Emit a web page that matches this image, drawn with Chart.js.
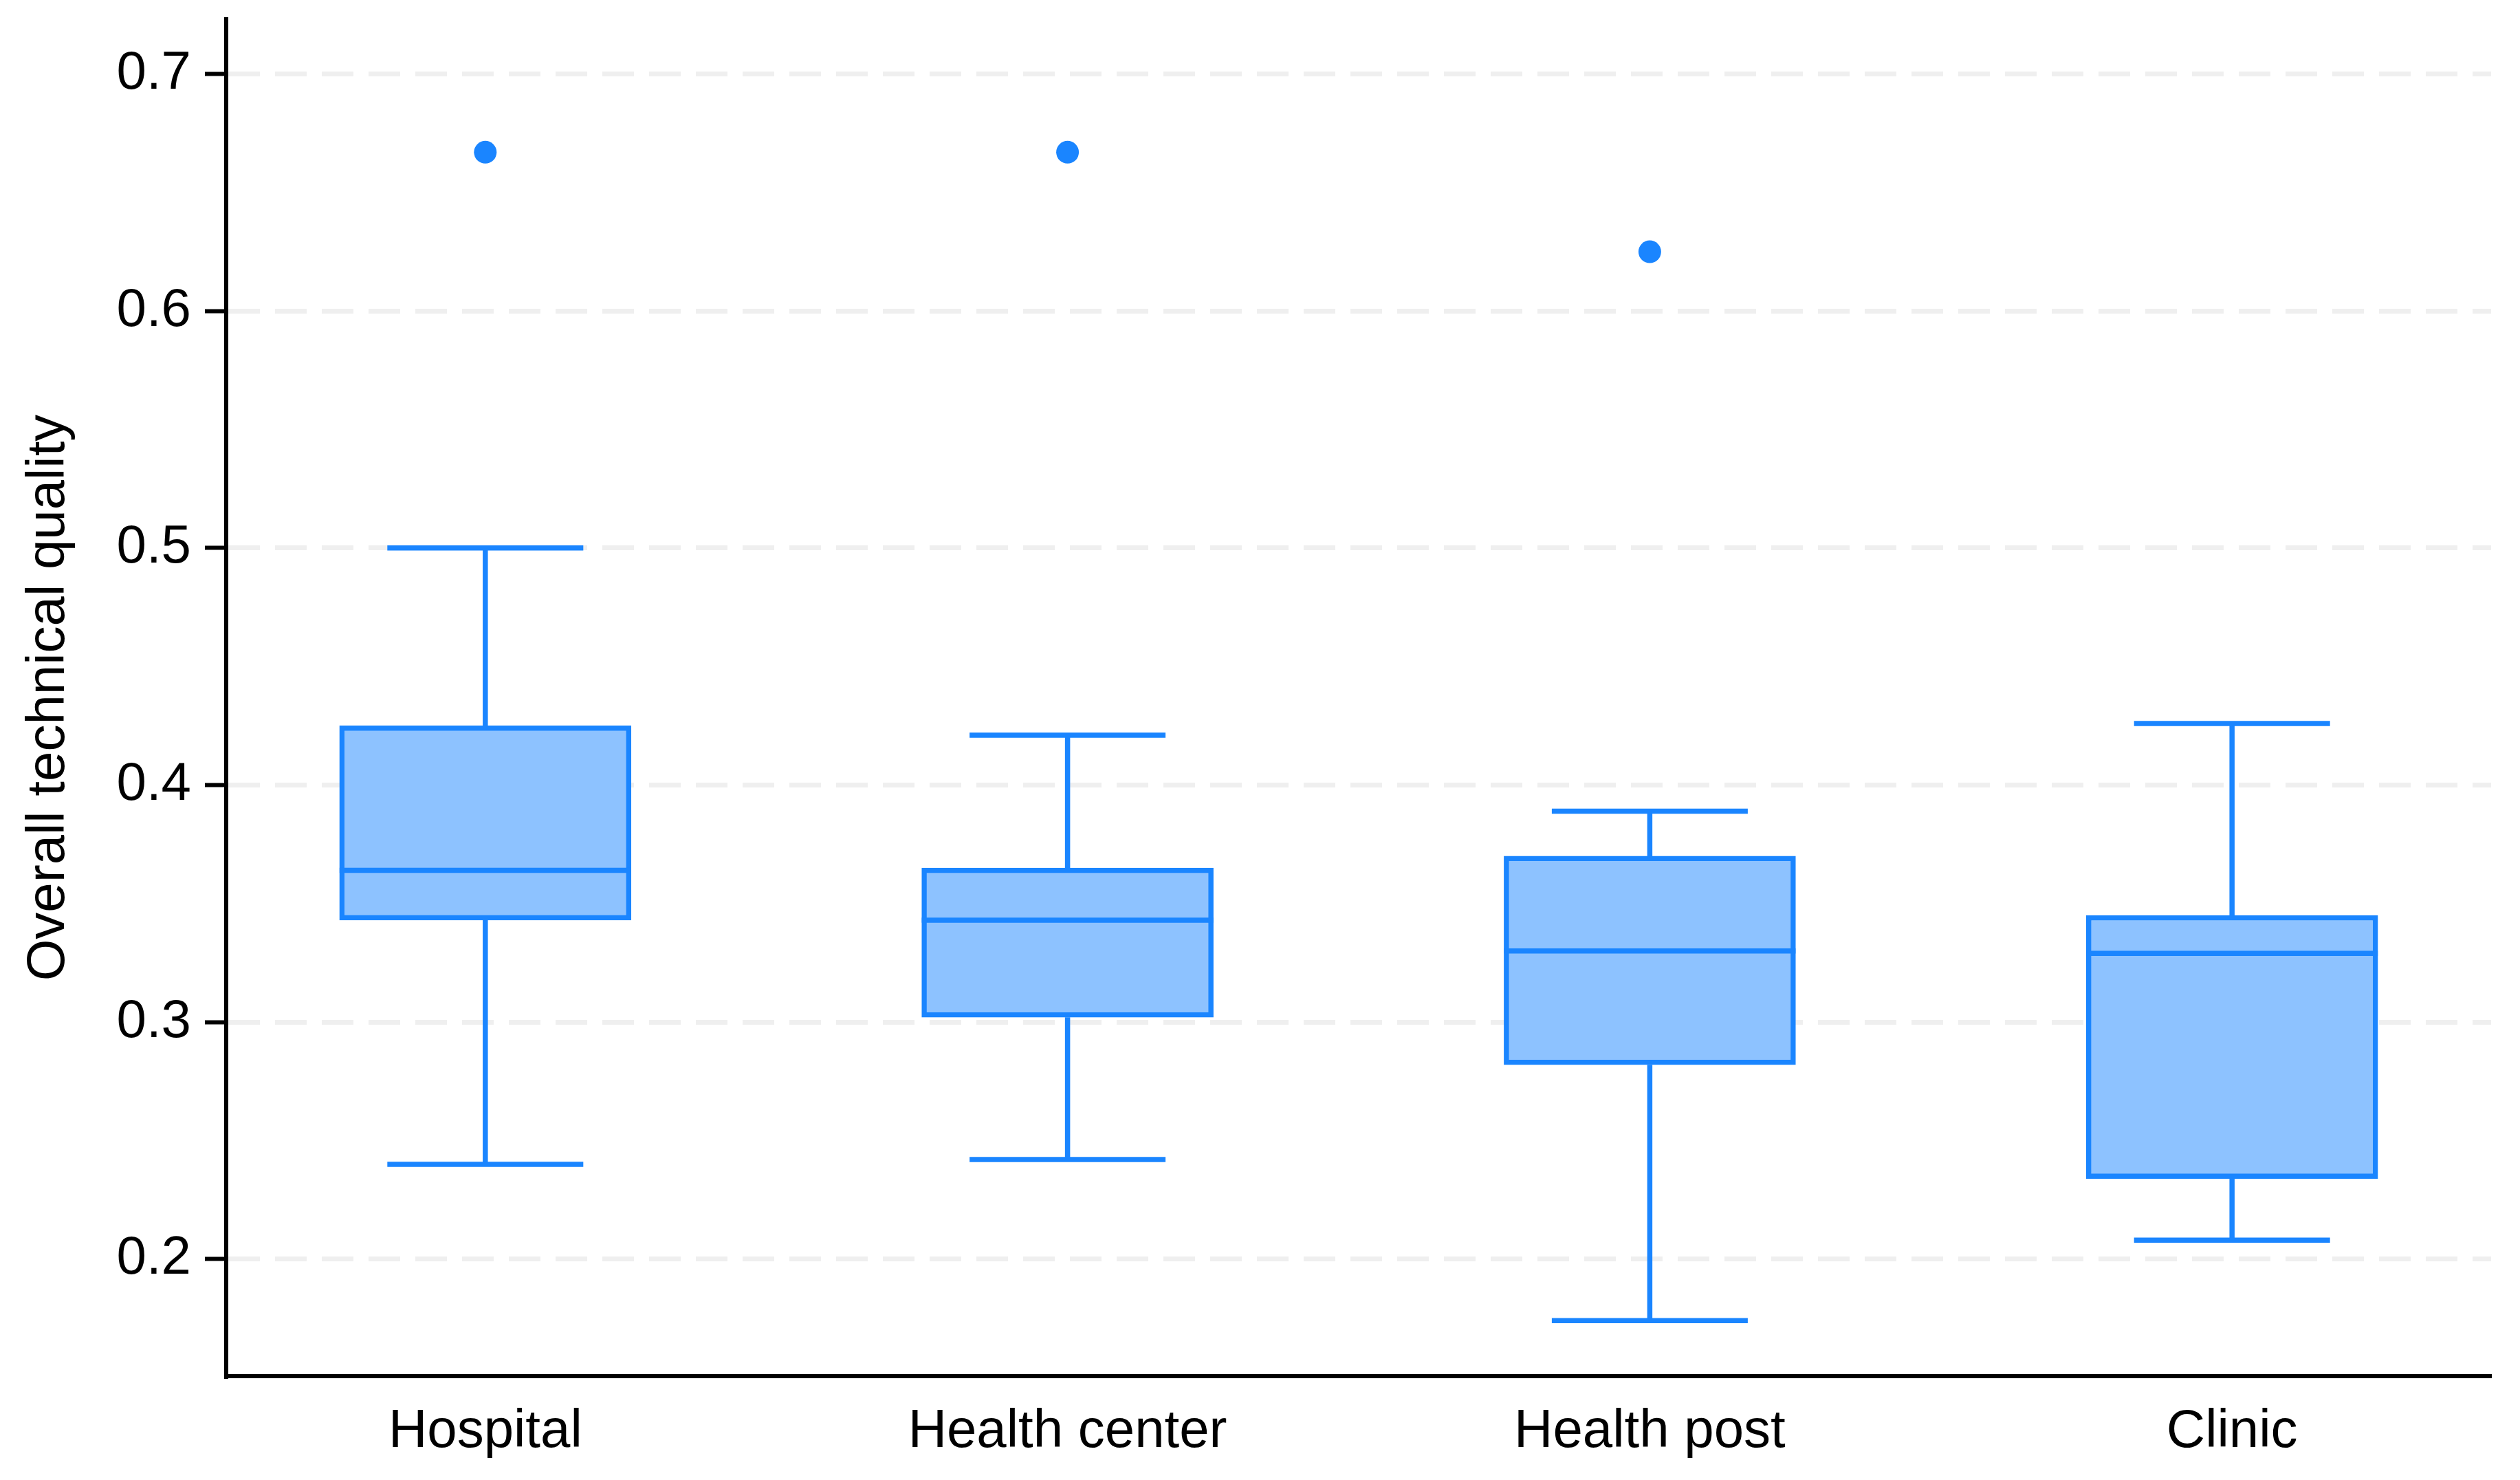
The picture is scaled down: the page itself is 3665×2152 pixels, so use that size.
<!DOCTYPE html>
<html>
<head>
<meta charset="utf-8">
<script src="https://cdn.jsdelivr.net/npm/chart.js@4.4.1/dist/chart.umd.min.js"></script>
<style>
  html, body { margin: 0; padding: 0; background: #ffffff; overflow: hidden; }
  canvas { display: block; }
</style>
</head>
<body>
<canvas id="c" width="3665" height="2152"></canvas>
<script>
// ---- data ----
const categories   = ['Hospital', 'Health center', 'Health post', 'Clinic'];
const q1Values     = [0.343, 0.302, 0.282, 0.234];
const medianValues = [0.364, 0.343, 0.330, 0.329];
const q3Values     = [0.425, 0.365, 0.370, 0.345];
const lowerWhisker = [0.240, 0.242, 0.174, 0.208];
const upperWhisker = [0.500, 0.421, 0.389, 0.426];
const outlierCats  = ['Hospital', 'Health center', 'Health post'];
const outlierVals  = [0.667, 0.667, 0.625];
const yTicks       = [0.2, 0.3, 0.4, 0.5, 0.6, 0.7];
const yTitle       = 'Overall technical quality';

// ---- styles ----
const LINE = '#1A85FF';
const FILL = '#8DC2FF';
const GRID = '#EFEFEF';
const FONT = '"Liberation Sans", Arial, Helvetica, sans-serif';
const BOX_W = 424;
const CAP_W = 285;
const LW = 7.5;

const boxData = categories.map((c, i) => ({ x: i + 1, y: [q1Values[i], q3Values[i]] }));
const outlierData = outlierCats.map((c, i) => ({ x: categories.indexOf(c) + 1, y: outlierVals[i] }));

const whiskerPlugin = {
  id: 'whiskers',
  afterDatasetsDraw(chart) {
    const { ctx, scales: { x, y } } = chart;
    ctx.save();
    ctx.strokeStyle = LINE;
    ctx.lineWidth = LW;
    ctx.lineCap = 'butt';
    categories.forEach((c, i) => {
      const px = x.getPixelForValue(i + 1);
      const yq1 = y.getPixelForValue(q1Values[i]);
      const yq3 = y.getPixelForValue(q3Values[i]);
      const ymed = y.getPixelForValue(medianValues[i]);
      const ylo = y.getPixelForValue(lowerWhisker[i]);
      const yhi = y.getPixelForValue(upperWhisker[i]);
      ctx.beginPath();
      ctx.moveTo(px, yq3); ctx.lineTo(px, yhi);
      ctx.moveTo(px - CAP_W / 2, yhi); ctx.lineTo(px + CAP_W / 2, yhi);
      ctx.moveTo(px, yq1); ctx.lineTo(px, ylo);
      ctx.moveTo(px - CAP_W / 2, ylo); ctx.lineTo(px + CAP_W / 2, ylo);
      ctx.moveTo(px - BOX_W / 2, ymed); ctx.lineTo(px + BOX_W / 2, ymed);
      ctx.stroke();
    });
    ctx.restore();
  }
};

new Chart(document.getElementById('c'), {
  type: 'bar',
  data: {
    datasets: [
      {
        type: 'bar',
        data: boxData,
        backgroundColor: FILL,
        borderColor: LINE,
        borderWidth: LW,
        borderSkipped: false,
        barThickness: BOX_W,
        grouped: false
      },
      {
        type: 'scatter',
        data: outlierData,
        backgroundColor: LINE,
        borderColor: LINE,
        borderWidth: 0,
        pointRadius: 16.5,
        pointHoverRadius: 16.5
      }
    ]
  },
  options: {
    responsive: false,
    devicePixelRatio: 1,
    animation: false,
    events: [],
    layout: { padding: { top: 28, right: 42, left: 0, bottom: 0 } },
    plugins: { legend: { display: false }, tooltip: { enabled: false } },
    scales: {
      x: {
        type: 'linear',
        min: 0.555,
        max: 4.445,
        offset: false,
        grid: { display: true, drawOnChartArea: false, drawTicks: false, offset: false },
        border: { display: true, color: '#000000', width: 6 },
        ticks: {
          padding: 35,
          color: '#000000',
          font: { family: FONT, size: 78 },
          maxRotation: 0,
          autoSkip: false,
          callback: (v) => categories[Math.round(v) - 1] || ''
        },
        afterBuildTicks: (s) => { s.ticks = categories.map((c, i) => ({ value: i + 1 })); },
        afterFit: (s) => { s.height = 151; s.paddingLeft = 0; s.paddingRight = 0; }
      },
      y: {
        type: 'linear',
        min: 0.1506,
        max: 0.7231,
        beginAtZero: false,
        grid: {
          display: true,
          color: GRID,
          lineWidth: 7,
          drawTicks: true,
          tickLength: 31,
          tickColor: '#000000',
          tickWidth: 6,
          tickBorderDash: []
        },
        border: { display: true, color: '#000000', width: 6, dash: [46, 22] },
        ticks: {
          padding: 20,
          color: '#000000',
          font: { family: FONT, size: 78 },
          includeBounds: false,
          callback: (v) => Number(v).toFixed(1)
        },
        afterBuildTicks: (s) => { s.ticks = yTicks.map(v => ({ value: v })); },
        afterFit: (s) => { s.width = 329; s.paddingTop = 0; s.paddingBottom = 0; },
        title: {
          display: true,
          text: yTitle,
          color: '#000000',
          font: { family: FONT, size: 78 },
          padding: { top: 25, bottom: 0 }
        }
      }
    }
  },
  plugins: [whiskerPlugin]
});
</script>
</body>
</html>
